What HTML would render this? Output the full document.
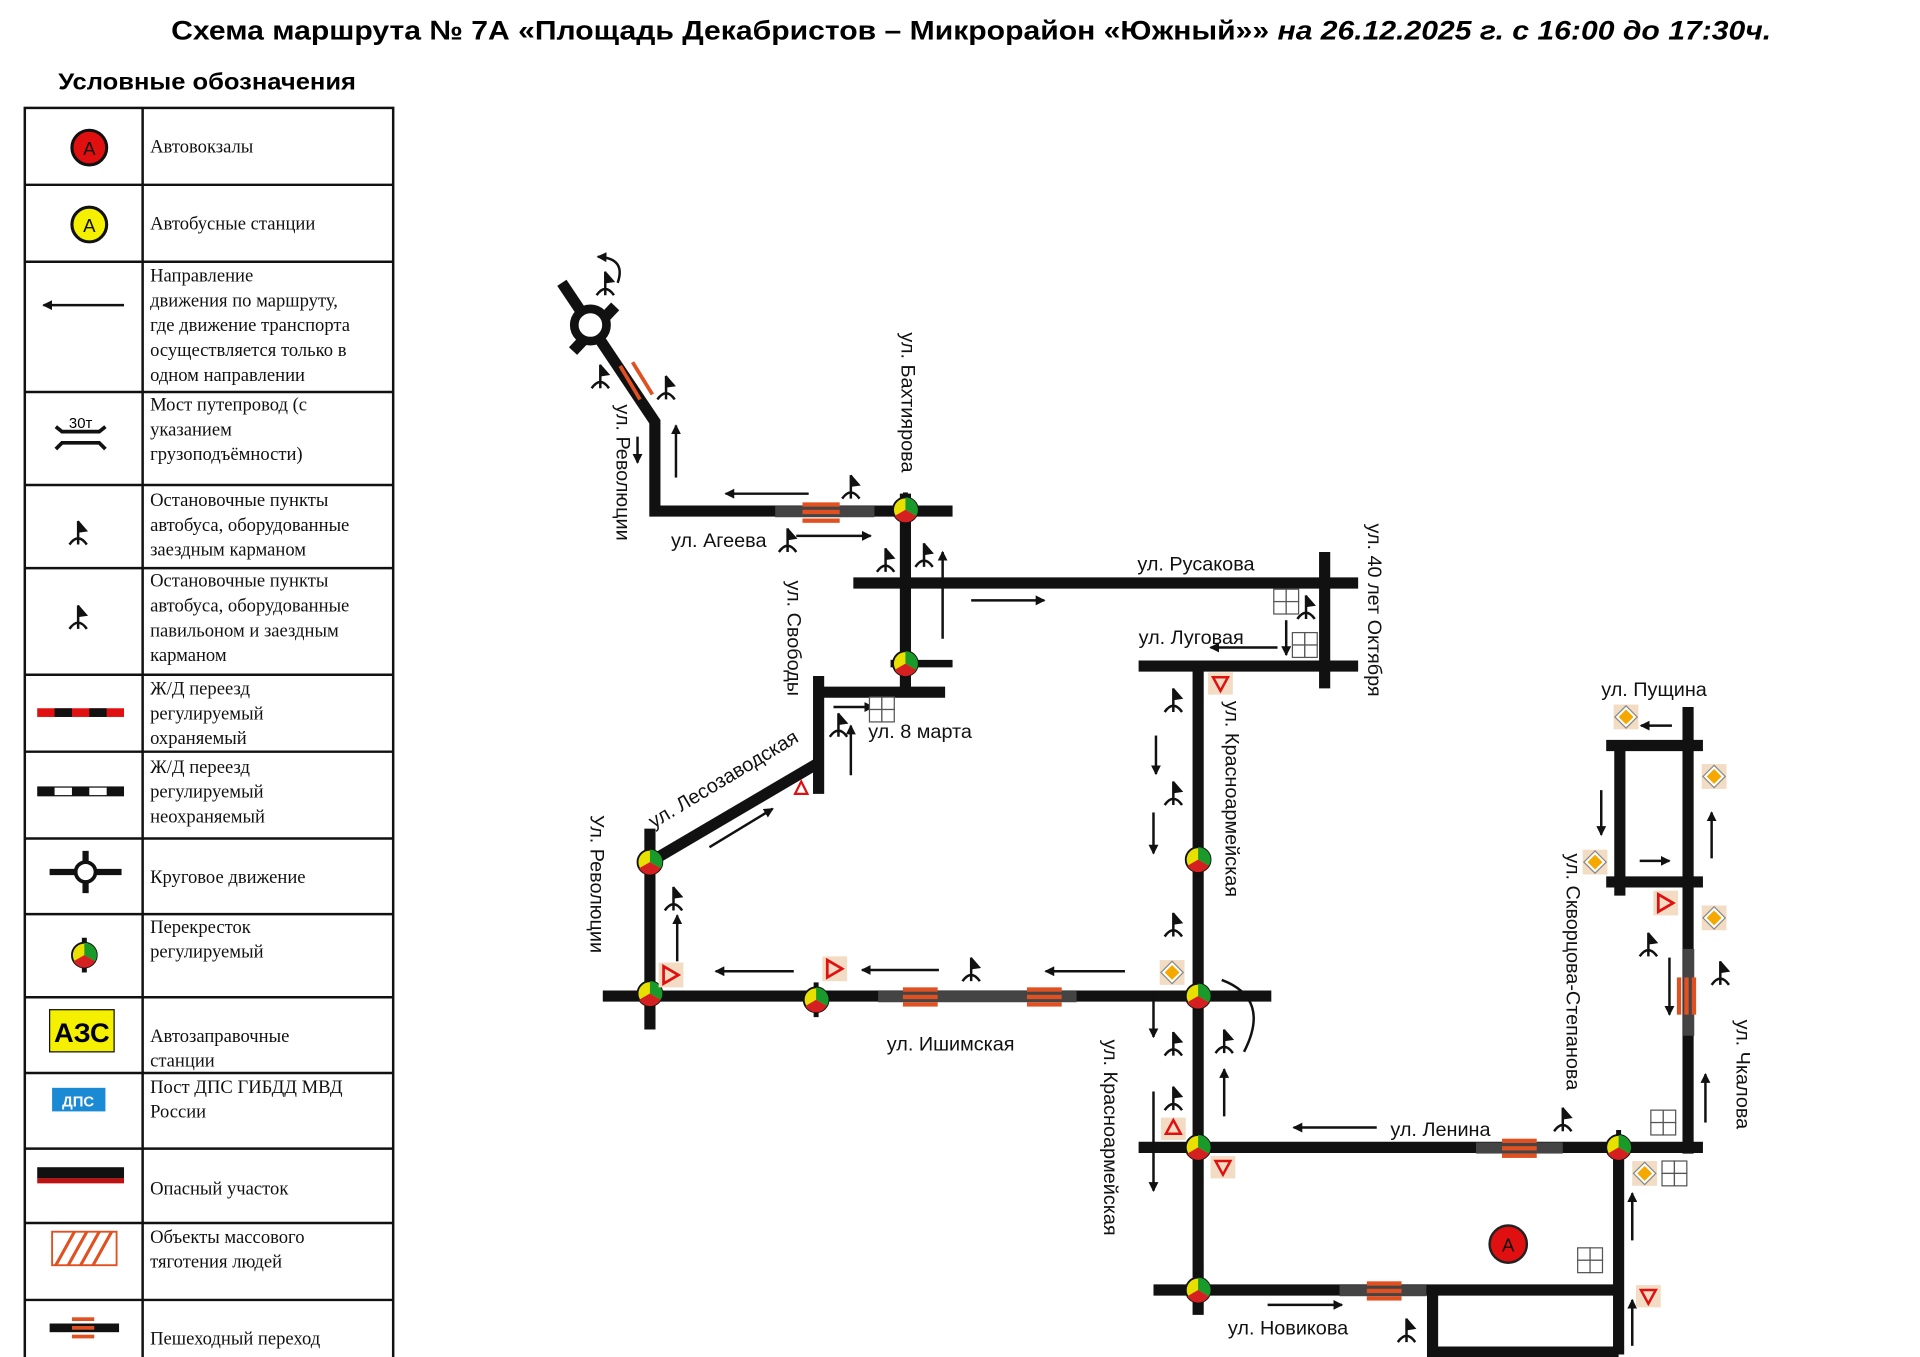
<!DOCTYPE html>
<html><head><meta charset="utf-8"><style>
html,body{margin:0;padding:0;background:#fff;}
svg{display:block}
.t{font-family:"Liberation Serif",serif;font-size:15px;fill:#111}
.m{font-family:"Liberation Sans",sans-serif;font-size:16px;fill:#111}
</style></head><body>
<svg width="1920" height="1357" viewBox="0 0 1548 1094" preserveAspectRatio="none" xmlns="http://www.w3.org/2000/svg">
<defs>
<g id="stop" stroke="#111" stroke-width="2" fill="none"><path d="M0,-10 V9 M-7,9 Q0,-1 7,9"/><path d="M0,-10 L7,-2 L0,-1" fill="#111" stroke-width="1"/></g>
<g id="tl"><rect x="-2" y="-14" width="4" height="28" fill="#111"/><circle r="10" fill="#e8e000" stroke="#111" stroke-width="1.5"/><path d="M0,0 V-10 A10,10 0 0 1 8.7,5 Z" fill="#1a9a2a"/><path d="M0,0 L8.7,5 A10,10 0 0 1 -8.7,5 Z" fill="#d42020"/></g>
<g id="yld"><rect x="-10" y="-10" width="20" height="20" fill="#f3dcc4"/><path d="M-6,-7 L6,0 L-6,7 Z" fill="none" stroke="#e01010" stroke-width="2.2"/></g>
<g id="yd"><rect x="-10" y="-10" width="20" height="20" fill="#f3dcc4"/><path d="M0,-9 L9,0 L0,9 L-9,0 Z" fill="#fff" stroke="#888"/><path d="M0,-6 L6,0 L0,6 L-6,0 Z" fill="#f4a800"/></g>
<g id="grid" fill="#fff" stroke="#555" stroke-width="1"><rect x="-10" y="-10" width="10" height="10"/><rect x="0" y="-10" width="10" height="10"/><rect x="-10" y="0" width="10" height="10"/><rect x="0" y="0" width="10" height="10"/></g>
<marker id="ah" markerWidth="8" markerHeight="8" refX="7" refY="4" orient="auto" markerUnits="userSpaceOnUse"><path d="M0,0 L8,4 L0,8 Z" fill="#111"/></marker>
</defs>

<text x="783" y="32" text-anchor="middle" font-family="'Liberation Sans Narrow','Liberation Sans',sans-serif" font-weight="bold" font-size="22" textLength="1290" lengthAdjust="spacingAndGlyphs">Схема маршрута № 7А «Площадь Декабристов – Микрорайон «Южный»» <tspan font-style="italic">на 26.12.2025 г. с 16:00 до 17:30ч.</tspan></text>
<text x="47" y="72" font-family="'Liberation Sans Narrow','Liberation Sans',sans-serif" font-weight="bold" font-size="19" textLength="240" lengthAdjust="spacingAndGlyphs">Условные обозначения</text>

<!-- legend table -->
<g stroke="#111" stroke-width="2" fill="none">
<rect x="20" y="87" width="297" height="1021"/>
<line x1="115" y1="87" x2="115" y2="1108"/>
<path d="M20,149H317M20,211H317M20,316H317M20,391H317M20,458H317M20,544H317M20,606H317M20,676H317M20,737H317M20,804H317M20,865H317M20,926H317M20,986H317M20,1048H317"/>
</g>
<g class="t">
<text x="121" y="123">Автовокзалы</text>
<text x="121" y="185">Автобусные станции</text>
<text x="121" y="227">Направление</text><text x="121" y="247">движения по маршруту,</text><text x="121" y="267">где движение транспорта</text><text x="121" y="287">осуществляется только в</text><text x="121" y="307">одном направлении</text>
<text x="121" y="331">Мост путепровод (с</text><text x="121" y="351">указанием</text><text x="121" y="371">грузоподъёмности)</text>
<text x="121" y="408">Остановочные пункты</text><text x="121" y="428">автобуса, оборудованные</text><text x="121" y="448">заездным карманом</text>
<text x="121" y="473">Остановочные пункты</text><text x="121" y="493">автобуса, оборудованные</text><text x="121" y="513">павильоном и заездным</text><text x="121" y="533">карманом</text>
<text x="121" y="560">Ж/Д переезд</text><text x="121" y="580">регулируемый</text><text x="121" y="600">охраняемый</text>
<text x="121" y="623">Ж/Д переезд</text><text x="121" y="643">регулируемый</text><text x="121" y="663">неохраняемый</text>
<text x="121" y="712">Круговое движение</text>
<text x="121" y="752">Перекресток</text><text x="121" y="772">регулируемый</text>
<text x="121" y="840">Автозаправочные</text><text x="121" y="860">станции</text>
<text x="121" y="881">Пост ДПС ГИБДД МВД</text><text x="121" y="901">России</text>
<text x="121" y="963">Опасный участок</text>
<text x="121" y="1002">Объекты массового</text><text x="121" y="1022">тяготения людей</text>
<text x="121" y="1084">Пешеходный переход</text>
</g>
<!-- legend icons -->
<circle cx="72" cy="119" r="14" fill="#e01010" stroke="#111" stroke-width="2.5"/><text x="72" y="125" text-anchor="middle" font-family="Liberation Sans" font-size="15" fill="#111">A</text>
<circle cx="72" cy="181" r="14" fill="#f4f000" stroke="#111" stroke-width="2.5"/><text x="72" y="187" text-anchor="middle" font-family="Liberation Sans" font-size="15" fill="#111">A</text>
<line x1="100" y1="246" x2="35" y2="246" stroke="#111" stroke-width="2" marker-end="url(#ah)"/>
<g stroke="#111" stroke-width="3" fill="none"><path d="M45,344 L50,348 H80 L85,344 M45,362 L50,357 H80 L85,362"/></g><text x="65" y="345" text-anchor="middle" font-family="Liberation Sans" font-size="12">30т</text>
<use href="#stop" x="63" y="430"/><use href="#stop" x="63" y="498"/>
<rect x="30" y="571" width="70" height="7" fill="#e01010"/><rect x="44" y="571" width="14" height="7" fill="#111"/><rect x="72" y="571" width="14" height="7" fill="#111"/>
<rect x="30" y="634" width="70" height="8" fill="#111"/><rect x="44" y="635" width="14" height="6" fill="#fff"/><rect x="72" y="635" width="14" height="6" fill="#fff"/>
<g stroke="#111" stroke-width="5"><line x1="40" y1="703" x2="98" y2="703"/><line x1="69" y1="686" x2="69" y2="720"/></g><circle cx="69" cy="703" r="8" fill="#fff" stroke="#111" stroke-width="3"/>
<use href="#tl" x="68" y="770"/>
<rect x="40" y="814" width="52" height="34" fill="#f4f000" stroke="#111"/><text x="66" y="840" text-anchor="middle" font-family="'Liberation Sans Narrow','Liberation Sans'" font-weight="bold" font-size="22">АЗС</text>
<rect x="42" y="877" width="43" height="19" fill="#1a8ad4"/><text x="63" y="892" text-anchor="middle" font-family="Liberation Sans" font-weight="bold" font-size="12" fill="#fff">ДПС</text>
<rect x="30" y="941" width="70" height="9" fill="#111"/><rect x="30" y="950" width="70" height="4" fill="#c01010"/>
<rect x="42" y="993" width="52" height="27" fill="#fff" stroke="#e05020" stroke-width="1.5"/><path d="M45,1020 L60,993 M55,1020 L70,993 M65,1020 L80,993 M75,1020 L90,993" stroke="#e05020" stroke-width="2.5"/>
<rect x="40" y="1067" width="56" height="7" fill="#111"/><rect x="58" y="1062" width="18" height="3" fill="#e05020"/><rect x="58" y="1069" width="18" height="3" fill="#e05020"/><rect x="58" y="1076" width="18" height="3" fill="#e05020"/>

<!-- roads -->
<g stroke="#111" stroke-width="9" fill="none" stroke-linecap="butt">
<path d="M453,228 L528,340 V412 H768"/>
<line x1="462" y1="283" x2="496" y2="247"/>
<line x1="730" y1="398" x2="730" y2="560"/>
<line x1="688" y1="470" x2="1095" y2="470"/>
<line x1="1068" y1="445" x2="1068" y2="555"/>
<line x1="918" y1="537" x2="1095" y2="537"/>
<line x1="718" y1="535" x2="768" y2="535" stroke-width="6"/>
<path d="M660,640 V545 M660,558 H762"/>
<line x1="660" y1="615" x2="524" y2="695"/>
<line x1="524" y1="668" x2="524" y2="830"/>
<line x1="486" y1="803" x2="1025" y2="803"/>
<line x1="966" y1="537" x2="966" y2="1060"/>
<line x1="918" y1="925" x2="1373" y2="925"/>
<line x1="930" y1="1040" x2="1305" y2="1040"/>
<line x1="1305" y1="915" x2="1305" y2="1092"/>
<path d="M1155,1040 V1090 H1305"/>
<line x1="1361" y1="570" x2="1361" y2="930"/>
<line x1="1306" y1="598" x2="1306" y2="722"/>
<line x1="1295" y1="601" x2="1373" y2="601"/>
<line x1="1295" y1="711" x2="1373" y2="711"/>
</g>
<circle cx="476" cy="262" r="13" fill="#fff" stroke="#111" stroke-width="7"/>
<!-- gray segments & crossings -->
<g fill="#444"><rect x="625" y="408" width="80" height="9"/><rect x="708" y="799" width="160" height="9"/><rect x="1190" y="921" width="70" height="9"/><rect x="1080" y="1036" width="70" height="9"/><rect x="1357" y="765" width="9" height="70"/></g>
<g fill="#e05020"><rect x="647" y="405" width="30" height="3.5"/><rect x="647" y="411" width="30" height="3.5"/><rect x="647" y="418" width="30" height="3.5"/>
<rect x="728" y="796" width="28" height="3.5"/><rect x="728" y="802" width="28" height="3.5"/><rect x="728" y="808" width="28" height="3.5"/>
<rect x="828" y="796" width="28" height="3.5"/><rect x="828" y="802" width="28" height="3.5"/><rect x="828" y="808" width="28" height="3.5"/>
<rect x="1211" y="918" width="28" height="3.5"/><rect x="1211" y="924" width="28" height="3.5"/><rect x="1211" y="930" width="28" height="3.5"/>
<rect x="1102" y="1033" width="28" height="3.5"/><rect x="1102" y="1039" width="28" height="3.5"/><rect x="1102" y="1045" width="28" height="3.5"/>
<rect x="1352" y="788" width="3.5" height="30"/><rect x="1358" y="788" width="3.5" height="30"/><rect x="1364" y="788" width="3.5" height="30"/></g>
<g stroke="#e05020" stroke-width="3"><line x1="500" y1="295" x2="516" y2="322"/><line x1="510" y1="292" x2="526" y2="318"/></g>

<!-- traffic lights -->
<use href="#tl" x="730" y="411"/><use href="#tl" x="730" y="535"/><use href="#tl" x="524" y="695"/><use href="#tl" x="524" y="801"/><use href="#tl" x="658" y="806"/><use href="#tl" x="966" y="693"/><use href="#tl" x="966" y="803"/><use href="#tl" x="966" y="925"/><use href="#tl" x="1305" y="925"/><use href="#tl" x="966" y="1040"/>

<!-- stops -->
<use href="#stop" x="488" y="229"/><use href="#stop" x="484" y="304"/><use href="#stop" x="537" y="313"/><use href="#stop" x="686" y="393"/><use href="#stop" x="635" y="436"/><use href="#stop" x="714" y="452"/><use href="#stop" x="745" y="448"/><use href="#stop" x="1053" y="490"/><use href="#stop" x="946" y="565"/><use href="#stop" x="946" y="640"/><use href="#stop" x="676" y="585"/><use href="#stop" x="543" y="725"/><use href="#stop" x="783" y="782"/><use href="#stop" x="946" y="746"/><use href="#stop" x="946" y="842"/><use href="#stop" x="987" y="840"/><use href="#stop" x="946" y="886"/><use href="#stop" x="1260" y="903"/><use href="#stop" x="1329" y="762"/><use href="#stop" x="1387" y="785"/><use href="#stop" x="1134" y="1073"/>

<!-- arrows -->
<g stroke="#111" stroke-width="2" marker-end="url(#ah)">
<line x1="652" y1="398" x2="585" y2="398"/><line x1="642" y1="432" x2="702" y2="432"/><line x1="760" y1="515" x2="760" y2="445"/><line x1="783" y1="484" x2="842" y2="484"/><line x1="1030" y1="522" x2="976" y2="522"/><line x1="1037" y1="500" x2="1037" y2="528"/>
<line x1="932" y1="593" x2="932" y2="624"/><line x1="930" y1="655" x2="930" y2="688"/><line x1="672" y1="570" x2="704" y2="570"/><line x1="686" y1="625" x2="686" y2="585"/><line x1="572" y1="683" x2="623" y2="652"/><line x1="546" y1="775" x2="546" y2="738"/>
<line x1="640" y1="783" x2="577" y2="783"/><line x1="757" y1="782" x2="695" y2="782"/><line x1="907" y1="783" x2="843" y2="783"/><line x1="930" y1="800" x2="930" y2="836"/><line x1="1110" y1="909" x2="1043" y2="909"/><line x1="987" y1="900" x2="987" y2="862"/><line x1="930" y1="880" x2="930" y2="960"/>
<line x1="1022" y1="1052" x2="1082" y2="1052"/><line x1="1230" y1="1102" x2="1295" y2="1102"/><line x1="1316" y1="1085" x2="1316" y2="1048"/><line x1="1316" y1="1000" x2="1316" y2="962"/><line x1="1375" y1="905" x2="1375" y2="866"/><line x1="1380" y1="692" x2="1380" y2="655"/><line x1="1322" y1="694" x2="1346" y2="694"/><line x1="1291" y1="637" x2="1291" y2="673"/><line x1="1348" y1="585" x2="1323" y2="585"/><line x1="1346" y1="772" x2="1346" y2="818"/>
<line x1="545" y1="385" x2="545" y2="343"/><line x1="514" y1="352" x2="514" y2="373"/>
<path d="M985,790 Q1025,805 1003,848" fill="none" marker-end="none"/><path d="M498,228 Q505,208 482,207" fill="none"/>
</g>

<!-- signs -->
<use href="#yld" x="541" y="786"/><use href="#yld" x="673" y="781"/><use href="#yld" x="1343" y="728"/>
<g><rect x="974" y="542" width="20" height="18" fill="#f3dcc4"/><path d="M978,546 L990,546 L984,557 Z" fill="none" stroke="#e01010" stroke-width="2"/>
<rect x="976" y="932" width="20" height="18" fill="#f3dcc4"/><path d="M980,936 L992,936 L986,947 Z" fill="none" stroke="#e01010" stroke-width="2"/>
<rect x="1319" y="1036" width="20" height="18" fill="#f3dcc4"/><path d="M1323,1040 L1335,1040 L1329,1051 Z" fill="none" stroke="#e01010" stroke-width="2"/>
<rect x="936" y="901" width="20" height="18" fill="#f3dcc4"/><path d="M940,914 L952,914 L946,903 Z" fill="none" stroke="#e01010" stroke-width="2"/>
<path d="M641,640 L651,640 L646,630 Z" fill="none" stroke="#e01010" stroke-width="1.8"/></g>
<use href="#yd" x="945" y="784"/><use href="#yd" x="1311" y="578"/><use href="#yd" x="1382" y="626"/><use href="#yd" x="1286" y="695"/><use href="#yd" x="1382" y="740"/><use href="#yd" x="1326" y="946"/>
<use href="#grid" x="1037" y="485"/><use href="#grid" x="1052" y="520"/><use href="#grid" x="711" y="572"/><use href="#grid" x="1341" y="905"/><use href="#grid" x="1350" y="946"/><use href="#grid" x="1282" y="1016"/>
<circle cx="1216" cy="1003" r="15" fill="#e01010" stroke="#222" stroke-width="2"/><text x="1216" y="1009" text-anchor="middle" font-family="Liberation Sans" font-size="15" fill="#111">A</text>

<!-- street labels -->
<g class="m">
<text x="541" y="441">ул. Агеева</text>
<text x="917" y="460">ул. Русакова</text>
<text x="918" y="519">ул. Луговая</text>
<text x="700" y="595">ул. 8 марта</text>
<text x="715" y="847">ул. Ишимская</text>
<text x="1121" y="916">ул. Ленина</text>
<text x="990" y="1076">ул. Новикова</text>
<text x="1291" y="561">ул. Пущина</text>
<text transform="translate(727,268) rotate(90)">ул. Бахтиярова</text>
<text transform="translate(497,326) rotate(90)">ул. Революции</text>
<text transform="translate(635,468) rotate(90)">ул. Свободы</text>
<text transform="translate(1103,422) rotate(90)">ул. 40 лет Октября</text>
<text transform="translate(988,565) rotate(90)">ул. Красноармейская</text>
<text transform="translate(476,657) rotate(90)">Ул. Революции</text>
<text transform="translate(890,838) rotate(90)">ул. Красноармейская</text>
<text transform="translate(1263,688) rotate(90)">ул. Скворцова-Степанова</text>
<text transform="translate(1400,822) rotate(90)">ул. Чкалова</text>
<text transform="translate(527,668) rotate(-31)">ул. Лесозаводская</text>
</g>
</svg>
</body></html>
